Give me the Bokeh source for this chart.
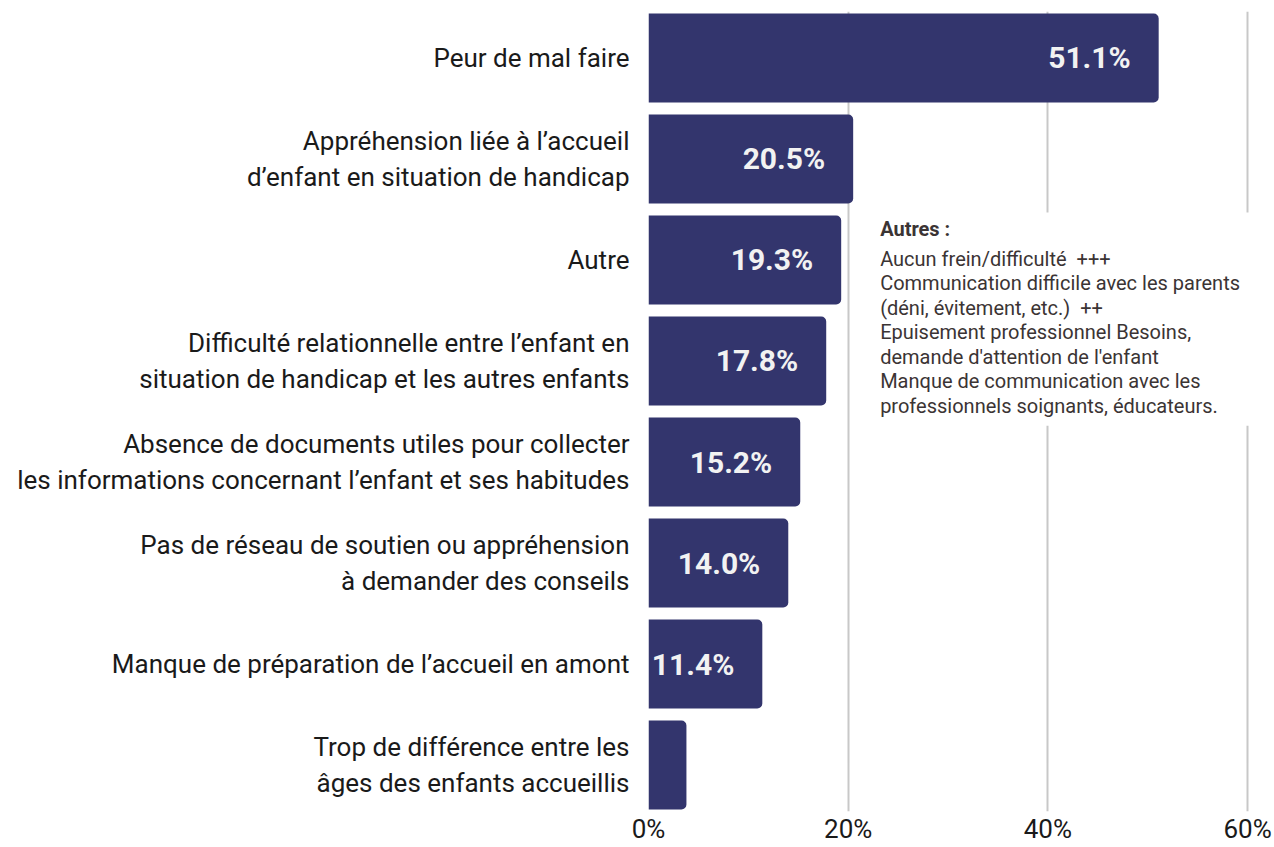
from bokeh.plotting import figure
from bokeh.models import Range1d, FixedTicker, PrintfTickFormatter, ColumnDataSource
from bokeh.core.properties import value
from bokeh.embed import file_html
from bokeh.resources import INLINE

categories = [
    "Peur de mal faire",
    "Appréhension liée à l\u2019accueil\nd\u2019enfant en situation de handicap",
    "Autre",
    "Difficulté relationnelle entre l\u2019enfant en\nsituation de handicap et les autres enfants",
    "Absence de documents utiles pour collecter\nles informations concernant l\u2019enfant et ses habitudes",
    "Pas de réseau de soutien ou appréhension\nà demander des conseils",
    "Manque de préparation de l\u2019accueil en amont",
    "Trop de différence entre les\nâges des enfants accueillis",
]
values = [51.1, 20.5, 19.3, 17.8, 15.2, 14.0, 11.4, 3.8]
x_ticks = [0, 20, 40, 60]
note_title = "Autres :"
note_lines = [
    "Aucun frein/difficulté \u00a0+++",
    "Communication difficile avec les parents",
    "(déni, évitement, etc.) \u00a0++",
    "Epuisement professionnel Besoins,",
    "demande d'attention de l'enfant",
    "Manque de communication avec les",
    "professionnels soignants, éducateurs.",
]

BAR = "#33356d"
NOTE = "#3b3434"
FONT = "Roboto"
idx = list(range(len(categories)))

p = figure(width=1272, height=847, output_backend="svg", toolbar_location=None,
           x_range=Range1d(0, 62.5), y_range=Range1d(7.46, -0.46),
           min_border_left=648, min_border_right=0, min_border_top=11, min_border_bottom=36)
p.outline_line_color = None
p.background_fill_color = "white"
p.border_fill_color = "white"

src = ColumnDataSource(dict(y=idx, v=values,
                            lab=[f"{v:.1f}%" if v >= 5 else "" for v in values]))
p.hbar(y="y", right="v", left=0, height=0.88, source=src, fill_color=BAR,
       line_color=None, border_radius=(0, 5, 5, 0))
p.text(x="v", y="y", text="lab", source=src, x_offset=-28, text_align="right",
       text_baseline="middle", text_color="#f2f2f2", text_font_size="30px",
       text_font=value(FONT), text_font_style="bold")

# note box (white panel hiding the grid lines behind the note)
p.quad(left=[22.0], right=[60.8], top=[1.53], bottom=[3.64],
       fill_color="white", line_color=None)
p.text(x=[23.2], y=[1.69], text=[note_title], text_align="left",
       text_baseline="alphabetic", text_color=NOTE, text_font_size="20px",
       text_font=value(FONT), text_font_style="bold")
y0, step = 1.99, 0.2424
note_src = ColumnDataSource(dict(x=[23.2] * len(note_lines),
                                 y=[y0 + i * step for i in range(len(note_lines))],
                                 t=note_lines))
p.text(x="x", y="y", text="t", source=note_src, text_align="left",
       text_baseline="alphabetic", text_color=NOTE, text_font_size="20px",
       text_font=value(FONT))

# axes
p.yaxis.ticker = FixedTicker(ticks=idx)
p.yaxis.major_label_overrides = {i: c for i, c in zip(idx, categories)}
p.yaxis.axis_line_color = None
p.yaxis.major_tick_line_color = None
p.yaxis.minor_tick_line_color = None
p.yaxis.major_tick_out = 0
p.yaxis.major_tick_in = 0
p.yaxis.major_label_standoff = 19
p.yaxis.major_label_text_font = FONT
p.yaxis.major_label_text_font_size = "26px"
p.yaxis.major_label_text_line_height = 1.23
p.yaxis.major_label_text_color = "#1a1a1a"

p.xaxis.ticker = FixedTicker(ticks=x_ticks)
p.xaxis.formatter = PrintfTickFormatter(format="%d%%")
p.xaxis.axis_line_color = None
p.xaxis.major_tick_line_color = None
p.xaxis.minor_tick_line_color = None
p.xaxis.major_tick_out = 0
p.xaxis.major_tick_in = 0
p.xaxis.major_label_standoff = 2
p.xaxis.major_label_text_font = FONT
p.xaxis.major_label_text_font_size = "26px"
p.xaxis.major_label_text_color = "#1a1a1a"

p.ygrid.grid_line_color = None
p.xgrid.ticker = FixedTicker(ticks=x_ticks)
p.xgrid.grid_line_color = "#c8c8c8"
p.xgrid.grid_line_width = 2

open("out.html", "w").write(file_html(p, INLINE))
